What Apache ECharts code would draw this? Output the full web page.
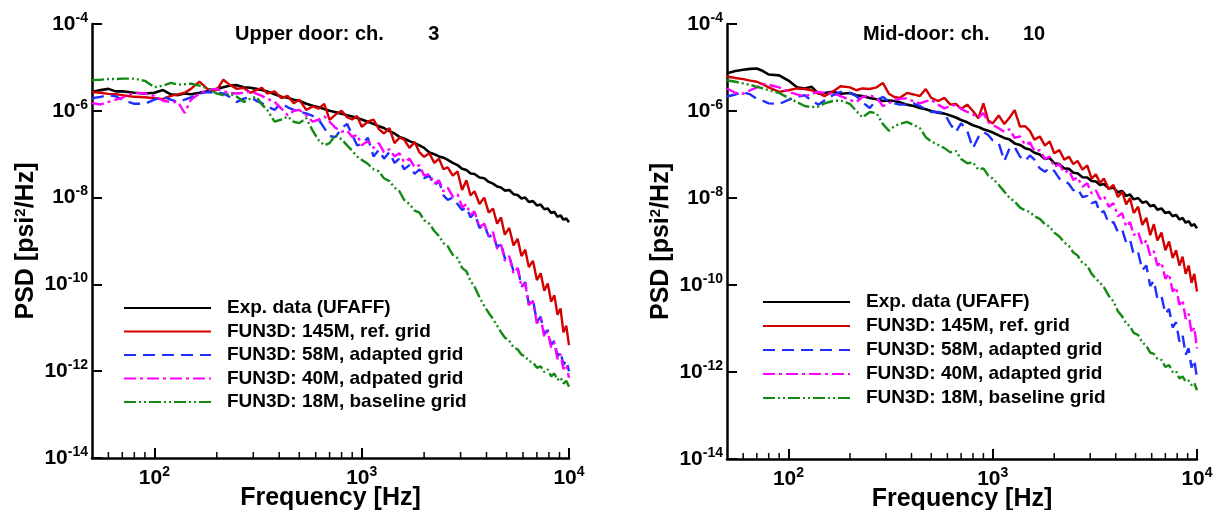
<!DOCTYPE html>
<html><head><meta charset="utf-8">
<script src="https://cdn.jsdelivr.net/npm/echarts@6/dist/echarts.min.js"></script>
<style>html,body{margin:0;padding:0;background:#fff}#c{width:1221px;height:510px}</style>
</head><body><div id="c"></div>
<script>
// Frequency grid [Hz]
const freq = [50,55,60,65,70,75,80,90,100,110,120,130,140,150,165,180,200,215,230,250,270,290,310,330,350,380,410,440,470,500,540,580,620,660,700,750,800,850,900,950,1000,1070,1140,1210,1280,1360,1440,1520,1600,1700,1800,1900,2000,2120,2240,2360,2480,2600,2750,2900,3050,3200,3350,3500,3700,3900,4100,4300,4500,4700,4900,5150,5400,5650,5900,6150,6400,6700,7000,7300,7600,7900,8200,8500,8800,9100,9400,9700,10000];

const xMajorTicks = [100, 1000, 10000];
const xMinorTicks = [60,70,80,90,200,300,400,500,600,700,800,900,2000,3000,4000,5000,6000,7000,8000,9000];
const yTicks = [1e-14, 1e-12, 1e-10, 1e-8, 1e-6, 1e-4];

const leftNames = ['Exp. data (UFAFF)', 'FUN3D: 145M, ref. grid', 'FUN3D: 58M, adapted grid', 'FUN3D: 40M, adpated grid', 'FUN3D: 18M, baseline grid'];
const rightNames = ['Exp. data (UFAFF)', 'FUN3D: 145M, ref. grid', 'FUN3D: 58M, adapted grid', 'FUN3D: 40M, adapted grid', 'FUN3D: 18M, baseline grid'];
const leftTitle = 'Upper door: ch.        3';
const rightTitle = 'Mid-door: ch.      10';

// Upper door, ch. 3  (PSD, psi^2/Hz)
const upperExp = [2.7e-6,3.0e-6,3.2e-6,2.8e-6,2.8e-6,2.7e-6,2.6e-6,2.5e-6,2.6e-6,3.0e-6,
 2.4e-6,2.3e-6,2.5e-6,2.4e-6,2.6e-6,2.8e-6,3.2e-6,3.5e-6,3.8e-6,3.9e-6,
 3.5e-6,3.4e-6,3.2e-6,3.0e-6,2.8e-6,2.4e-6,2.1e-6,2.0e-6,1.8e-6,1.7e-6,
 1.45e-6,1.3e-6,1.2e-6,1.1e-6,1.0e-6,9.3e-7,8.5e-7,7.9e-7,7.4e-7,6.8e-7,
 6.3e-7,5.6e-7,5.0e-7,4.4e-7,4.0e-7,3.4e-7,3.0e-7,2.5e-7,2.3e-7,2.0e-7,
 1.8e-7,1.6e-7,1.4e-7,1.1e-7,1.0e-7,8.9e-8,8.3e-8,7.4e-8,6.3e-8,5.6e-8,
 4.6e-8,4.3e-8,3.6e-8,3.5e-8,2.9e-8,2.8e-8,2.3e-8,2.1e-8,1.8e-8,1.7e-8,
 1.45e-8,1.5e-8,1.2e-8,1.15e-8,9.5e-9,1.0e-8,7.9e-9,8.3e-9,6.6e-9,6.9e-9,
 5.4e-9,5.6e-9,4.4e-9,4.7e-9,3.6e-9,3.9e-9,3.1e-9,3.3e-9,2.7e-9];
const upper145M = [2.7e-6,2.6e-6,2.45e-6,2.4e-6,2.3e-6,2.2e-6,2.1e-6,2.05e-6,1.95e-6,1.86e-6,
 2.2e-6,2.4e-6,2.6e-6,3.2e-6,4.7e-6,3.2e-6,3.0e-6,5.2e-6,4.0e-6,3.2e-6,
 3.4e-6,2.6e-6,3.0e-6,3.4e-6,2.5e-6,2.8e-6,1.95e-6,2.2e-6,1.5e-6,1.8e-6,
 1.05e-6,1.26e-6,1.12e-6,1.45e-6,6.2e-7,8.3e-7,1.0e-6,7.1e-7,6.3e-7,7.6e-7,
 4.3e-7,5.6e-7,6.3e-7,3.8e-7,3.0e-7,4.0e-7,1.8e-7,2.4e-7,2.2e-7,1.4e-7,
 1.9e-7,1.1e-7,8.7e-8,1.05e-7,6.3e-8,7.9e-8,4.5e-8,5.0e-8,3.2e-8,4.0e-8,
 1.5e-8,2.5e-8,1.12e-8,1.4e-8,7.1e-9,1.0e-8,4.5e-9,5.6e-9,2.5e-9,3.5e-9,
 1.4e-9,2.0e-9,7.9e-10,1.12e-9,4.5e-10,6.3e-10,2.5e-10,3.5e-10,1.26e-10,1.8e-10,
 7.1e-11,1.05e-10,4.0e-11,5.6e-11,2.0e-11,2.8e-11,7.9e-12,1.12e-11,4.0e-12];
const upper58M = [1.95e-6,2.1e-6,2.3e-6,2.15e-6,1.8e-6,1.6e-6,1.45e-6,1.45e-6,1.8e-6,2.1e-6,
 1.8e-6,1.6e-6,1.8e-6,2.05e-6,2.5e-6,2.7e-6,2.6e-6,2.5e-6,2.1e-6,1.6e-6,
 1.9e-6,2.1e-6,1.7e-6,1.5e-6,1.26e-6,1.05e-6,1.5e-6,1.2e-6,1.05e-6,9.5e-7,
 8.7e-7,7.6e-7,6.3e-7,4.0e-7,2.6e-7,2.5e-7,4.0e-7,5.0e-7,2.8e-7,1.6e-7,
 1.7e-7,2.4e-7,8.9e-8,1.26e-7,7.9e-8,1.12e-7,6.3e-8,7.9e-8,4.5e-8,5.6e-8,
 3.5e-8,4.5e-8,2.8e-8,3.2e-8,1.9e-8,2.4e-8,1.12e-8,8.9e-9,1.0e-8,7.1e-9,
 5.2e-9,6.0e-9,3.5e-9,4.5e-9,2.0e-9,2.4e-9,1.26e-9,1.4e-9,7.1e-10,8.9e-10,
 4.0e-10,4.5e-10,2.0e-10,2.5e-10,8.9e-11,1.12e-10,3.5e-11,4.5e-11,1.4e-11,1.8e-11,
 7.1e-12,8.9e-12,4.0e-12,5.0e-12,2.2e-12,2.8e-12,1.4e-12,1.8e-12,1.0e-12];
const upper40M = [1.5e-6,1.4e-6,1.6e-6,1.8e-6,2.0e-6,2.35e-6,2.6e-6,2.5e-6,2.2e-6,1.7e-6,
 1.6e-6,1.6e-6,8.9e-7,1.8e-6,2.5e-6,3.0e-6,3.2e-6,2.8e-6,2.6e-6,2.5e-6,
 2.6e-6,2.8e-6,2.5e-6,2.2e-6,1.9e-6,1.6e-6,1.12e-6,7.9e-7,1.0e-6,1.05e-6,
 7.9e-7,5.6e-7,6.3e-7,7.4e-7,5.6e-7,4.0e-7,3.3e-7,3.5e-7,2.5e-7,2.8e-7,
 1.6e-7,2.0e-7,1.4e-7,1.8e-7,1.12e-7,1.3e-7,8.9e-8,1.05e-7,6.6e-8,7.9e-8,
 5.0e-8,5.6e-8,3.2e-8,3.5e-8,2.1e-8,2.5e-8,1.4e-8,1.7e-8,1.05e-8,1.2e-8,
 6.0e-9,7.1e-9,4.0e-9,4.8e-9,2.1e-9,2.5e-9,1.3e-9,1.6e-9,6.6e-10,8.3e-10,
 3.5e-10,4.5e-10,1.8e-10,2.4e-10,8.9e-11,1.05e-10,3.3e-11,4.2e-11,1.26e-11,1.7e-11,
 6.3e-12,8.3e-12,3.5e-12,4.5e-12,1.9e-12,2.5e-12,1.12e-12,1.4e-12,7.1e-13];
const upper18M = [5.1e-6,5.2e-6,5.4e-6,5.4e-6,5.5e-6,5.5e-6,5.5e-6,4.9e-6,3.5e-6,3.8e-6,
 4.4e-6,4.0e-6,4.1e-6,4.2e-6,3.8e-6,3.3e-6,2.5e-6,2.3e-6,2.5e-6,2.1e-6,
 1.6e-6,1.9e-6,2.1e-6,1.4e-6,1.05e-6,5.6e-7,6.3e-7,7.4e-7,5.6e-7,5.2e-7,
 6.8e-7,3.5e-7,2.1e-7,1.6e-7,1.8e-7,2.8e-7,2.2e-7,1.6e-7,1.2e-7,8.9e-8,
 7.4e-8,6.0e-8,4.5e-8,4.0e-8,2.8e-8,2.4e-8,1.7e-8,1.4e-8,8.9e-9,7.1e-9,
 5.0e-9,4.5e-9,3.0e-9,2.5e-9,1.7e-9,1.3e-9,8.9e-10,7.6e-10,4.8e-10,4.0e-10,
 2.4e-10,2.0e-10,1.2e-10,8.9e-11,5.0e-11,3.2e-11,2.2e-11,1.6e-11,1.12e-11,7.9e-12,
 6.0e-12,5.0e-12,3.5e-12,3.2e-12,2.4e-12,2.2e-12,1.7e-12,1.6e-12,1.2e-12,1.3e-12,
 9.5e-13,1.1e-12,7.6e-13,8.9e-13,6.3e-13,7.2e-13,5.2e-13,6.0e-13,4.4e-13];

// Mid-door, ch. 10
const midExp = [7.4e-6,8.3e-6,8.9e-6,9.3e-6,9.5e-6,8.3e-6,6.9e-6,6.6e-6,5.0e-6,3.5e-6,
 3.3e-6,3.6e-6,2.5e-6,2.6e-6,2.75e-6,2.5e-6,2.6e-6,2.3e-6,2.2e-6,2.0e-6,
 1.86e-6,1.7e-6,1.74e-6,1.7e-6,1.6e-6,1.4e-6,1.3e-6,1.17e-6,1.1e-6,1.0e-6,
 9.1e-7,8.7e-7,7.9e-7,7.1e-7,6.2e-7,5.5e-7,4.7e-7,4.3e-7,3.8e-7,3.5e-7,
 3.2e-7,2.75e-7,2.4e-7,2.2e-7,1.8e-7,1.66e-7,1.4e-7,1.3e-7,1.1e-7,1.0e-7,
 7.9e-8,8.3e-8,6.3e-8,6.0e-8,4.8e-8,4.7e-8,3.8e-8,3.7e-8,3.0e-8,2.95e-8,
 2.45e-8,2.4e-8,2.0e-8,2.1e-8,1.66e-8,1.74e-8,1.35e-8,1.45e-8,1.12e-8,1.2e-8,
 9.3e-9,1.0e-8,7.8e-9,8.3e-9,6.5e-9,6.9e-9,5.4e-9,5.75e-9,4.5e-9,4.8e-9,
 3.8e-9,4.1e-9,3.2e-9,3.5e-9,2.7e-9,2.95e-9,2.3e-9,2.5e-9,2.0e-9];
const mid145M = [6.2e-6,5.75e-6,5.4e-6,5.0e-6,4.7e-6,4.1e-6,3.5e-6,2.75e-6,3.0e-6,3.3e-6,
 3.2e-6,3.0e-6,2.6e-6,2.2e-6,2.8e-6,3.7e-6,3.5e-6,3.0e-6,3.3e-6,3.2e-6,
 3.5e-6,4.4e-6,2.5e-6,2.1e-6,2.0e-6,2.6e-6,2.4e-6,2.2e-6,3.2e-6,2.0e-6,
 1.7e-6,2.0e-6,1.4e-6,1.45e-6,1.12e-6,1.4e-6,1.0e-6,6.8e-7,1.5e-6,6.0e-7,
 5.2e-7,7.9e-7,5.0e-7,7.1e-7,1.05e-6,4.4e-7,4.5e-7,3.5e-7,2.2e-7,2.6e-7,
 1.6e-7,2.0e-7,1.07e-7,1.26e-7,7.6e-8,8.9e-8,6.0e-8,7.1e-8,4.5e-8,5.6e-8,
 2.8e-8,3.5e-8,2.2e-8,2.8e-8,1.6e-8,2.0e-8,1.05e-8,1.4e-8,7.1e-9,1.0e-8,
 4.5e-9,6.3e-9,2.4e-9,3.5e-9,1.4e-9,2.5e-9,1.05e-9,1.6e-9,6.3e-10,1.0e-9,
 4.2e-10,6.3e-10,2.8e-10,4.5e-10,1.8e-10,2.8e-10,1.12e-10,1.8e-10,7.1e-11];
const mid58M = [2.15e-6,2.4e-6,2.7e-6,2.4e-6,1.9e-6,1.7e-6,1.5e-6,1.45e-6,1.8e-6,2.1e-6,
 2.3e-6,1.74e-6,1.4e-6,1.74e-6,2.3e-6,2.75e-6,2.6e-6,2.2e-6,1.6e-6,1.17e-6,
 1.8e-6,2.1e-6,1.66e-6,1.5e-6,1.4e-6,1.4e-6,1.5e-6,1.3e-6,1.1e-6,9.5e-7,
 9.5e-7,8.9e-7,5.0e-7,3.3e-7,5.2e-7,3.5e-7,1.4e-7,2.5e-7,3.3e-7,2.8e-7,
 2.1e-7,1.8e-7,7.1e-8,1.4e-7,1.5e-7,8.9e-8,7.1e-8,9.5e-8,7.6e-8,4.8e-8,
 4.0e-8,5.0e-8,4.2e-8,2.8e-8,2.5e-8,2.1e-8,1.5e-8,1.66e-8,1.05e-8,1.12e-8,
 7.6e-9,8.3e-9,4.5e-9,5.0e-9,2.6e-9,2.8e-9,1.66e-9,1.9e-9,9.5e-10,1.12e-9,
 5.0e-10,5.6e-10,2.2e-10,2.8e-10,9.5e-11,1.26e-10,4.8e-11,5.6e-11,2.2e-11,2.8e-11,
 1.05e-11,1.4e-11,5.0e-12,7.1e-12,2.5e-12,3.5e-12,1.26e-12,1.9e-12,7.1e-13];
const mid40M = [3.3e-6,2.6e-6,2.5e-6,3.0e-6,3.5e-6,4.2e-6,4.0e-6,3.5e-6,2.75e-6,2.4e-6,
 2.15e-6,2.5e-6,2.75e-6,2.6e-6,2.5e-6,2.2e-6,1.8e-6,1.6e-6,2.1e-6,2.3e-6,
 2.0e-6,1.3e-6,1.5e-6,1.8e-6,1.9e-6,1.95e-6,1.66e-6,1.5e-6,1.66e-6,1.8e-6,
 1.4e-6,1.15e-6,1.3e-6,1.4e-6,1.12e-6,9.5e-7,8.3e-7,7.1e-7,8.9e-7,5.6e-7,
 4.8e-7,4.0e-7,3.3e-7,3.8e-7,2.4e-7,2.6e-7,1.66e-7,1.9e-7,1.2e-7,1.26e-7,
 7.9e-8,8.9e-8,5.2e-8,6.0e-8,3.8e-8,4.4e-8,2.6e-8,3.0e-8,1.8e-8,2.2e-8,
 1.26e-8,1.5e-8,9.5e-9,1.12e-8,6.3e-9,7.6e-9,3.8e-9,4.5e-9,2.2e-9,2.8e-9,
 1.4e-9,1.66e-9,8.3e-10,1.05e-9,4.8e-10,6.0e-10,2.8e-10,3.3e-10,1.4e-10,1.8e-10,
 7.1e-11,8.9e-11,3.5e-11,4.5e-11,1.66e-11,2.2e-11,7.9e-12,1.05e-11,3.5e-12];
const mid18M = [5.1e-6,4.7e-6,4.3e-6,4.0e-6,3.6e-6,3.3e-6,3.0e-6,2.6e-6,2.0e-6,1.6e-6,
 1.3e-6,1.23e-6,1.26e-6,1.5e-6,1.7e-6,1.74e-6,1.45e-6,1.0e-6,7.1e-7,9.5e-7,
 8.9e-7,5.0e-7,3.5e-7,4.5e-7,5.0e-7,5.6e-7,4.8e-7,4.0e-7,2.5e-7,2.0e-7,
 1.66e-7,1.4e-7,1.12e-7,1.2e-7,7.9e-8,6.3e-8,6.6e-8,4.5e-8,4.8e-8,3.3e-8,
 2.8e-8,2.0e-8,1.4e-8,1.0e-8,8.3e-9,6.0e-9,5.2e-9,4.8e-9,3.8e-9,3.3e-9,
 2.5e-9,2.2e-9,1.6e-9,1.3e-9,9.5e-10,7.9e-10,5.6e-10,4.8e-10,3.2e-10,2.8e-10,
 1.8e-10,1.4e-10,1.12e-10,8.9e-11,5.6e-11,4.2e-11,2.5e-11,1.9e-11,1.3e-11,1.12e-11,
 7.9e-12,7.1e-12,4.8e-12,4.0e-12,2.8e-12,2.6e-12,2.0e-12,1.9e-12,1.3e-12,1.45e-12,
 1.0e-12,1.05e-12,7.1e-13,7.9e-13,6.0e-13,6.3e-13,5.0e-13,5.6e-13,3.8e-13];

const FONT = '"Liberation Sans", Arial, Helvetica, sans-serif';
const styles = [
  {color: '#000000', type: 'solid', width: 2.6},
  {color: '#d40000', type: 'solid', width: 2.4},
  {color: '#1f2fff', type: [12, 7], width: 2.4},
  {color: '#ff00ff', type: [12, 4, 3, 4], width: 2.4},
  {color: '#138a13', type: [12, 3, 2, 3, 2, 3], width: 2.4}
];

function pair(arr) { return freq.map((f, i) => [f, arr[i]]); }
function supLabel(v) {
  const e = Math.round(Math.log10(v));
  return '{b|10}{s|' + e + '}';
}
const labelRich = {
  b: {fontSize: 21, fontWeight: 'bold', fontFamily: FONT, color: '#000'},
  s: {fontSize: 14, fontWeight: 'bold', fontFamily: FONT, color: '#000', padding: [0, 0, 12, 0]}
};

function xAxisCfg(gi) {
  return {
    type: 'log', logBase: 10, gridIndex: gi, min: 50, max: 10000,
    name: 'Frequency [Hz]', nameLocation: 'middle', nameGap: 28, nameMoveOverlap: false,
    nameTextStyle: {fontSize: 25, fontWeight: 'bold', fontFamily: FONT, color: '#000', verticalAlign: 'top'},
    axisLine: {lineStyle: {color: '#000', width: 2.5}},
    axisTick: {inside: true, length: 10, lineStyle: {width: 2, color: '#000'}, customValues: xMajorTicks},
    axisLabel: {customValues: xMajorTicks, formatter: supLabel, rich: labelRich, margin: 7},
    splitLine: {show: false}
  };
}
function yAxisCfg(gi) {
  return {
    type: 'log', logBase: 10, gridIndex: gi, min: 1e-14, max: 1e-4,
    name: '{n|PSD [psi}{s|2}{n|/Hz]}', nameLocation: 'middle', nameGap: 52,
    nameTextStyle: {rich: {
      n: {fontSize: 25, fontWeight: 'bold', fontFamily: FONT, color: '#000'},
      s: {fontSize: 15, fontWeight: 'bold', fontFamily: FONT, color: '#000', padding: [0, 0, 12, 0]}
    }},
    axisLine: {lineStyle: {color: '#000', width: 2.5}},
    axisTick: {inside: true, length: 10, lineStyle: {width: 2, color: '#000'}, customValues: yTicks},
    axisLabel: {customValues: yTicks, formatter: supLabel, rich: labelRich, margin: 4},
    splitLine: {show: false}
  };
}

function lineSeries(name, arr, k, gi) {
  return {
    type: 'line', name: name, data: pair(arr), xAxisIndex: gi, yAxisIndex: gi,
    showSymbol: false, symbol: 'none', animation: false,
    lineStyle: {color: styles[k].color, width: styles[k].width, type: styles[k].type, cap: 'butt'},
    itemStyle: {color: styles[k].color}
  };
}
function minorTickSeries(gi) {
  return {
    type: 'custom', xAxisIndex: gi, yAxisIndex: gi, silent: true, z: 5,
    data: xMinorTicks.map(f => [f, 1e-14]),
    renderItem: function (params, api) {
      const p = api.coord([api.value(0), api.value(1)]);
      return {type: 'line', shape: {x1: p[0], y1: p[1], x2: p[0], y2: p[1] - 6},
              style: {stroke: '#000', lineWidth: 1.5}};
    }
  };
}

const upperData = [upperExp, upper145M, upper58M, upper40M, upper18M];
const midData = [midExp, mid145M, mid58M, mid40M, mid18M];

const series = [];
upperData.forEach((a, k) => series.push(lineSeries(leftNames[k], a, k, 0)));
midData.forEach((a, k) => series.push(lineSeries(rightNames[k], a, k, 1)));
series.push(minorTickSeries(0), minorTickSeries(1));

const legendText = {fontSize: 19, fontWeight: 'bold', fontFamily: FONT, color: '#000', lineHeight: 20, padding: [0, 0, 0, 11]};

const option = {
  backgroundColor: '#fff',
  animation: false,
  title: [
    {text: leftTitle, left: 235, top: 24, padding: 0, textStyle: {fontSize: 20, fontWeight: 'bold', fontFamily: FONT, color: '#000'}},
    {text: rightTitle, left: 863, top: 24, padding: 0, textStyle: {fontSize: 20, fontWeight: 'bold', fontFamily: FONT, color: '#000'}}
  ],
  grid: [
    {left: 92, top: 24, width: 477, height: 434, outerBoundsMode: 'none', containLabel: false},
    {left: 727, top: 24, width: 470, height: 435, outerBoundsMode: 'none', containLabel: false}
  ],
  xAxis: [xAxisCfg(0), xAxisCfg(1)],
  yAxis: [yAxisCfg(0), yAxisCfg(1)],
  legend: [
    {data: leftNames, orient: 'vertical', left: 123, top: 298, padding: 0, itemWidth: 87, itemHeight: 14, itemGap: 3.5,
     itemStyle: {opacity: 0}, textStyle: legendText, selectedMode: false},
    {data: rightNames, orient: 'vertical', left: 762, top: 292, padding: 0, itemWidth: 87, itemHeight: 14, itemGap: 4,
     itemStyle: {opacity: 0}, textStyle: legendText, selectedMode: false}
  ],
  series: series
};

const chart = echarts.init(document.getElementById('c'), null, {renderer: 'canvas'});
chart.setOption(option);
</script>
</body></html>
